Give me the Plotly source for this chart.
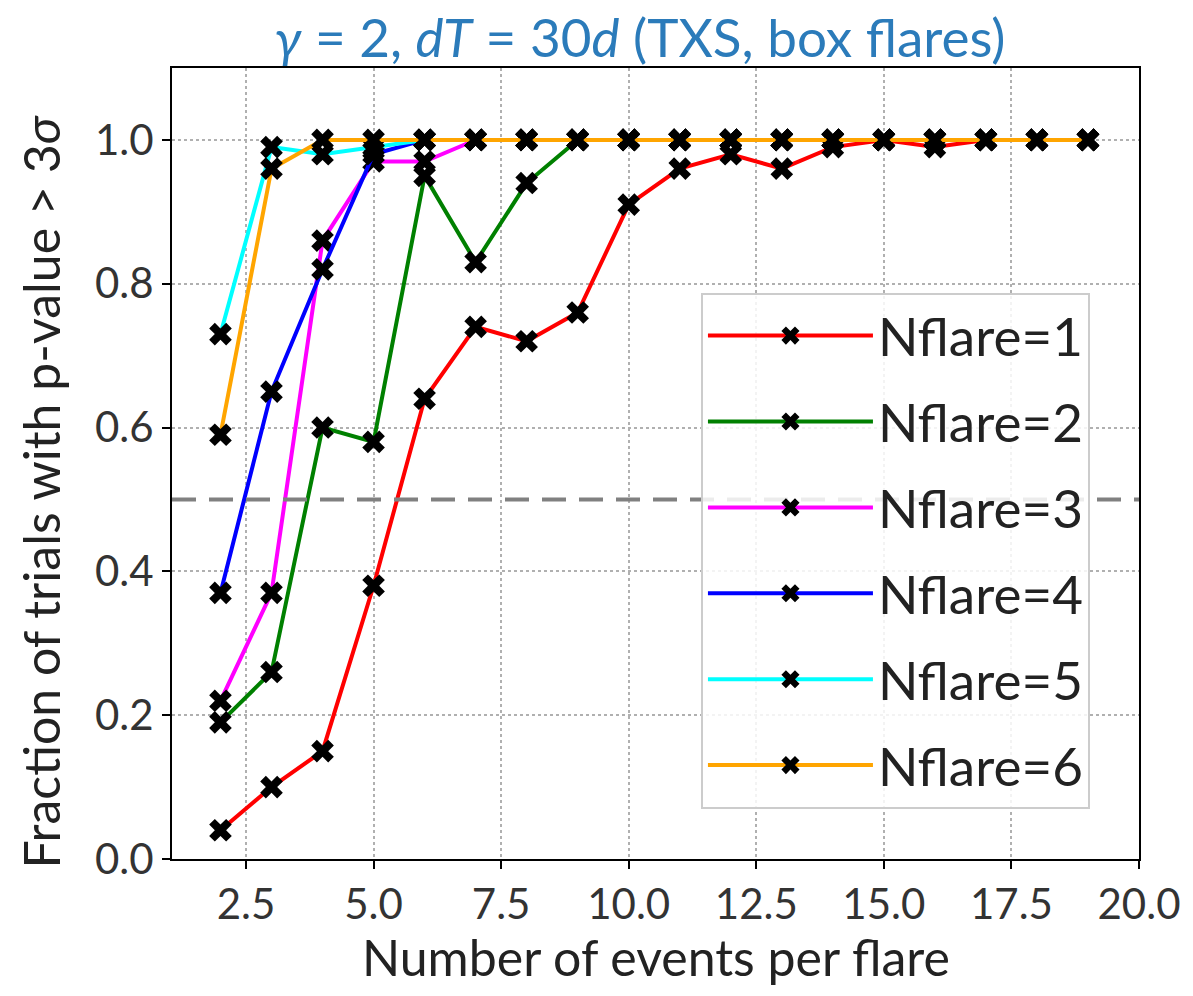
import plotly.graph_objects as go

x_events = list(range(2, 20))

nflare1 = [0.04, 0.10, 0.15, 0.38, 0.64, 0.74, 0.72, 0.76, 0.91, 0.96, 0.98, 0.96, 0.99, 1.0, 0.99, 1.0, 1.0, 1.0]
nflare2 = [0.19, 0.26, 0.60, 0.58, 0.95, 0.83, 0.94, 1.0, 1.0, 1.0, 1.0, 1.0, 1.0, 1.0, 1.0, 1.0, 1.0, 1.0]
nflare3 = [0.22, 0.37, 0.86, 0.97, 0.97, 1.0, 1.0, 1.0, 1.0, 1.0, 1.0, 1.0, 1.0, 1.0, 1.0, 1.0, 1.0, 1.0]
nflare4 = [0.37, 0.65, 0.82, 0.98, 1.0, 1.0, 1.0, 1.0, 1.0, 1.0, 1.0, 1.0, 1.0, 1.0, 1.0, 1.0, 1.0, 1.0]
nflare5 = [0.73, 0.99, 0.98, 0.99, 1.0, 1.0, 1.0, 1.0, 1.0, 1.0, 1.0, 1.0, 1.0, 1.0, 1.0, 1.0, 1.0, 1.0]
nflare6 = [0.59, 0.96, 1.0, 1.0, 1.0, 1.0, 1.0, 1.0, 1.0, 1.0, 1.0, 1.0, 1.0, 1.0, 1.0, 1.0, 1.0, 1.0]

series = [
    ("Nflare=1", nflare1, "#ff0000"),
    ("Nflare=2", nflare2, "#008000"),
    ("Nflare=3", nflare3, "#ff00ff"),
    ("Nflare=4", nflare4, "#0000ff"),
    ("Nflare=5", nflare5, "#00ffff"),
    ("Nflare=6", nflare6, "#ffa500"),
]

x_ticks = [2.5, 5.0, 7.5, 10.0, 12.5, 15.0, 17.5, 20.0]
y_ticks = [0.0, 0.2, 0.4, 0.6, 0.8, 1.0]
threshold = 0.5

x_title = "Number of events per flare"
y_title = "Fraction of trials with p-value > 3<i>σ</i>"
plot_title = "<i>γ</i> = 2, <i>dT</i> = 30<i>d</i> (TXS, box flares)"

FONT = "Lato, DejaVu Sans, sans-serif"

fig = go.Figure()
for i, (name, vals, col) in enumerate(series):
    fig.add_trace(go.Scatter(
        x=x_events, y=vals, mode="lines+markers", name=name,
        legendgroup=name,
        line=dict(color=col, width=4),
        marker=dict(symbol="x", color="black", size=20, line=dict(width=0)),
    ))

fig.add_shape(type="line", xref="x domain", yref="y", x0=0, x1=1, y0=threshold, y1=threshold,
              line=dict(color="gray", width=4, dash="24px,13px"), layer="above")

fig.add_annotation(text=x_title, xref="paper", yref="paper", x=0.5, y=-0.124,
                   xanchor="center", yanchor="middle", showarrow=False,
                   font=dict(size=50, color="#222222", family=FONT))
fig.add_annotation(text=y_title, xref="paper", yref="paper", x=(40 - 172) / 971, y=0.464,
                   xanchor="center", yanchor="middle", textangle=-90, showarrow=False,
                   font=dict(size=50, color="#222222", family=FONT))

fig.update_layout(
    width=1193, height=996,
    margin=dict(l=172, r=50, t=68, b=137),
    plot_bgcolor="white", paper_bgcolor="white",
    font=dict(family=FONT, color="#222222"),
    title=dict(text=plot_title,
               x=640 / 1193, xanchor="center", y=1 - 38 / 996, yanchor="middle",
               font=dict(size=53, color="#2b7bba", family=FONT)),
    showlegend=True,
    legend=dict(x=0.547, y=0.716, xanchor="left", yanchor="top",
                bgcolor="rgba(255,255,255,0.85)", bordercolor="#cccccc", borderwidth=2,
                font=dict(size=53, family=FONT, color="#222222"),
                tracegroupgap=14, itemwidth=165),
)

fig.update_xaxes(range=[1.05, 20], tickvals=x_ticks, ticktext=[f"{v:.1f}" for v in x_ticks],
                 showline=True, linecolor="black", linewidth=2, mirror=True,
                 ticks="outside", ticklen=8, tickwidth=2, tickcolor="black",
                 showgrid=True, gridcolor="#b0b0b0", griddash="dot", gridwidth=1.5,
                 zeroline=False, tickfont=dict(size=42, color="#333333"))
fig.update_yaxes(range=[0, 1.1], tickvals=y_ticks, ticktext=[f"{v:.1f}" for v in y_ticks],
                 showline=True, linecolor="black", linewidth=2, mirror=True,
                 ticks="outside", ticklen=8, tickwidth=2, tickcolor="black",
                 showgrid=True, gridcolor="#b0b0b0", griddash="dot", gridwidth=1.5,
                 zeroline=False, tickfont=dict(size=42, color="#333333"))

fig.write_html("out.html")
